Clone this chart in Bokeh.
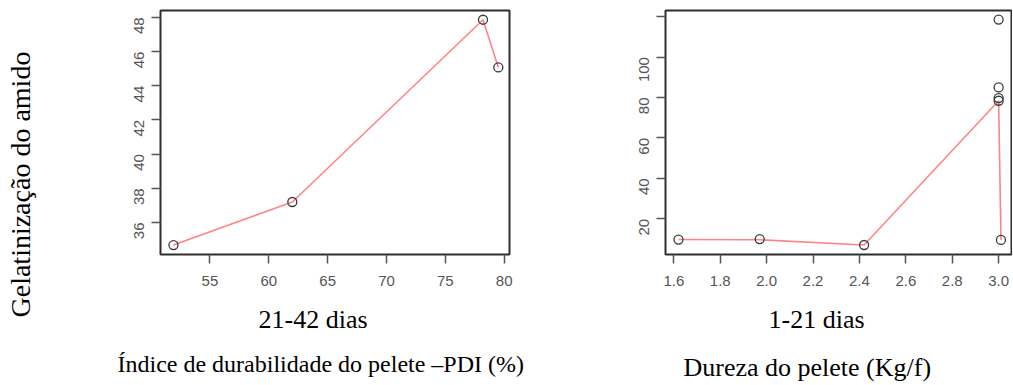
import math
from bokeh.plotting import figure
from bokeh.layouts import row
from bokeh.models import FixedTicker, Range1d, Title, NumeralTickFormatter
from bokeh.embed import file_html
from bokeh.resources import INLINE

# ---- data: left panel (21-42 dias) ----
pdi_x = [51.9, 62.0, 78.2, 79.5]
gel_left = [34.68, 37.2, 47.86, 45.07]
left_xticks = [55, 60, 65, 70, 75, 80]
left_yticks = [36, 38, 40, 42, 44, 46, 48]

# ---- data: right panel (1-21 dias) ----
dureza_x = [1.62, 1.97, 2.42, 3.0, 3.0, 3.0, 3.0, 3.01]
gel_right = [9.8, 10.0, 7.1, 78.4, 79.7, 85.0, 118.5, 9.6]
line_right_x = [1.62, 1.97, 2.42, 3.0, 3.01]
line_right_y = [9.8, 9.7, 7.1, 78.4, 9.6]
right_xticks = [1.6, 1.8, 2.0, 2.2, 2.4, 2.6, 2.8, 3.0]
right_yticks = [20, 40, 60, 80, 100, 120]

SANS = "Liberation Sans"
SERIF = "Liberation Serif"
LINE_RED = "#ff8585"
PT = "#3a3a3a"
H = 384


def style(p, xticks, yticks, hide=None):
    p.outline_line_color = "#2e2e2e"
    p.outline_line_width = 2
    p.grid.visible = False
    for ax in (p.xaxis[0], p.yaxis[0]):
        ax.axis_line_color = None
        ax.major_tick_line_color = "#555555"
        ax.major_tick_line_width = 1.5
        ax.major_tick_out = 9
        ax.major_tick_in = 0
        ax.minor_tick_line_color = None
        ax.major_label_text_font = SANS
        ax.major_label_text_font_size = "15px"
        ax.major_label_text_color = "#555555"
        ax.major_label_standoff = 12
    p.xaxis[0].ticker = FixedTicker(ticks=xticks)
    p.yaxis[0].ticker = FixedTicker(ticks=yticks)
    p.yaxis[0].major_label_orientation = math.pi / 2
    if hide:
        p.yaxis[0].major_label_overrides = hide


def serif_title(text, size, offset, standoff):
    return Title(text=text, align="left", offset=offset, standoff=standoff,
                 text_font=SERIF, text_font_size=size, text_font_style="normal",
                 text_color="black")


# ---------------- strip holding the shared y title ----------------
p0 = figure(width=40, height=H, output_backend="svg", toolbar_location=None,
            x_axis_location=None, y_axis_location=None,
            x_range=Range1d(0, 1), y_range=Range1d(0, 1),
            min_border_left=36, min_border_right=0,
            min_border_top=8, min_border_bottom=127)
p0.outline_line_color = None
p0.grid.visible = False
p0.background_fill_color = None
p0.border_fill_color = None
p0.add_layout(serif_title("Gelatinização do amido", "28px", -63, 2), "left")

# ---------------- left figure ----------------
p1 = figure(width=495, height=H, output_backend="svg", toolbar_location=None,
            x_range=Range1d(50.8, 80.45), y_range=Range1d(34.13, 48.4),
            min_border_left=120, min_border_right=26,
            min_border_top=6, min_border_bottom=128)
style(p1, left_xticks, left_yticks)
p1.line(pdi_x, gel_left, line_color=LINE_RED, line_width=1.6)
p1.scatter(pdi_x, gel_left, marker="circle", size=9, fill_color=None,
           line_color=PT, line_width=1.3)
p1.add_layout(serif_title("21-42 dias", "26px", 98, 29), "below")
p1.add_layout(serif_title("Índice de durabilidade do pelete –PDI (%)", "24px", -43, 0), "below")

# ---------------- right figure ----------------
p2 = figure(width=477, height=H, output_backend="svg", toolbar_location=None,
            x_range=Range1d(1.564, 3.0597), y_range=Range1d(2.4, 123.0),
            min_border_left=130, min_border_right=0,
            min_border_top=10, min_border_bottom=126)
style(p2, right_xticks, right_yticks, hide={120: ""})
p2.xaxis[0].formatter = NumeralTickFormatter(format="0.0")
p2.line(line_right_x, line_right_y, line_color=LINE_RED, line_width=1.6)
p2.scatter(dureza_x, gel_right, marker="circle", size=9, fill_color=None,
           line_color=PT, line_width=1.3)
p2.add_layout(serif_title("1-21 dias", "26px", 103, 28), "below")
p2.add_layout(serif_title("Dureza do pelete (Kg/f)", "26px", 18, 6), "below")

layout = row(p0, p1, p2)
open("out.html", "w").write(file_html(layout, INLINE))
